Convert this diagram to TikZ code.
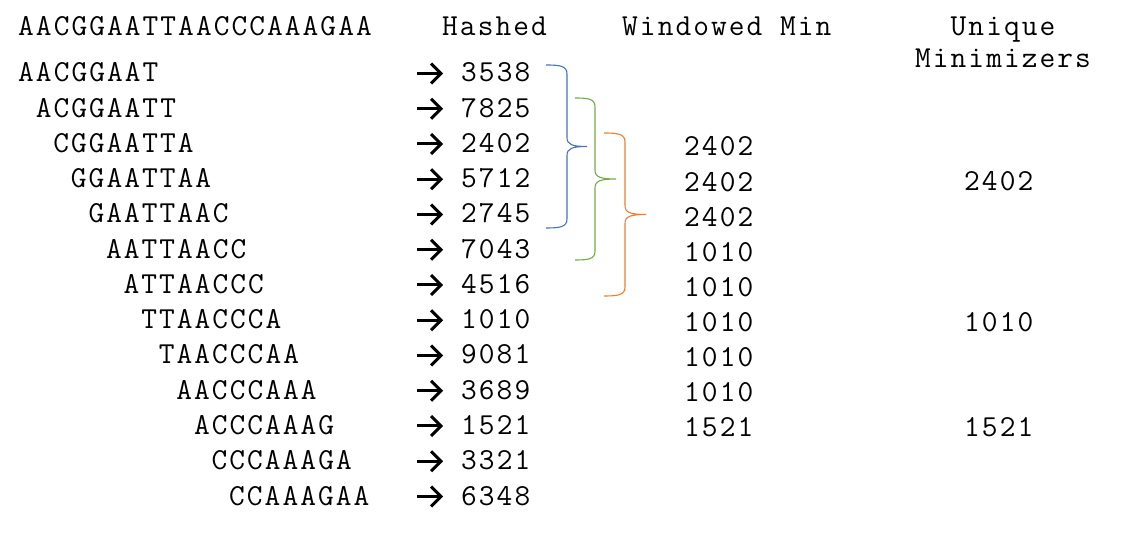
\documentclass[tikz,border=0pt]{standalone}
\usepackage{fontspec}
\setmonofont{Latin Modern Mono}[LetterSpace=6.8]
\definecolor{bblue}{HTML}{4472C4}
\definecolor{bgreen}{HTML}{70AD47}
\definecolor{borange}{HTML}{ED7D31}
\newcommand\mybrace[6]{%
  \draw[bracestyle,#1] (#2,#5) .. controls ({#2+14},#5) and (#3,{#5+1}) .. (#3,{#5+9})
    -- (#3,{(#5+#6)/2-9}) .. controls (#3,{(#5+#6)/2-2}) and ({#3+5},{(#5+#6)/2}) .. (#4,{(#5+#6)/2})
    .. controls ({#3+5},{(#5+#6)/2}) and (#3,{(#5+#6)/2+2}) .. (#3,{(#5+#6)/2+9})
    -- (#3,{#6-9}) .. controls (#3,{#6-1}) and ({#2+14},#6) .. (#2,#6);}
\begin{document}
\begin{tikzpicture}[x=1pt,y=-1pt,
  txt/.style={font=\ttfamily\fontsize{30.5}{34}\selectfont, inner sep=0pt, anchor=base west},
  ctxt/.style={font=\ttfamily\fontsize{30.5}{34}\selectfont, inner sep=0pt, anchor=base},
  arrline/.style={line width=3pt, line join=miter},
  bracestyle/.style={line width=1.1pt}]
\useasboundingbox (0,0) rectangle (1141,534);
% headers
\node[txt] (seq) at (18,36) {AACGGAATTAACCCAAAGAA};
\node[txt] (hhash) at (442,36) {Hashed};
\node[txt] (hwin) at (622,36) {Windowed Min};
\node[ctxt] (huniq1) at (1003,36) {Unique};
\node[ctxt] (huniq2) at (1003,68) {Minimizers};
% k-mers, arrows, hashes
\foreach \s/\h [count=\i from 0] in {AACGGAAT/3538,ACGGAATT/7825,CGGAATTA/2402,GGAATTAA/5712,GAATTAAC/2745,AATTAACC/7043,ATTAACCC/4516,TTAACCCA/1010,TAACCCAA/9081,AACCCAAA/3689,ACCCAAAG/1521,CCCAAAGA/3321,CCAAAGAA/6348}{
  \node[txt] (k\i) at ({18+17.58*\i},{82+35.25*\i}) {\s};
  \coordinate (a\i) at (417,{73.5+35.25*\i});
  \draw[arrline] (a\i) -- ++(22,0);
  \draw[arrline] ([xshift=14pt,yshift=10pt]a\i) -- ([xshift=24pt]a\i) -- ([xshift=14pt,yshift=-10pt]a\i);
  \node[txt] (h\i) at (461,{82+35.25*\i}) {\h};
}
% windowed minima
\foreach \w [count=\i from 0] in {2402,2402,2402,1010,1010,1010,1010,1010,1521}{
  \node[txt] (w\i) at (684,{156+35.1*\i}) {\w};
}
% unique minimizers
\node[txt] (u1) at (964,191) {2402};
\node[txt] (u2) at (964,331.5) {1010};
\node[txt] (u3) at (964,437) {1521};
% braces
\mybrace{bblue}{546}{567}{587}{65}{228}
\mybrace{bgreen}{575}{595}{616}{98}{260}
\mybrace{borange}{604}{625}{646}{133}{296}
\end{tikzpicture}
\end{document}
